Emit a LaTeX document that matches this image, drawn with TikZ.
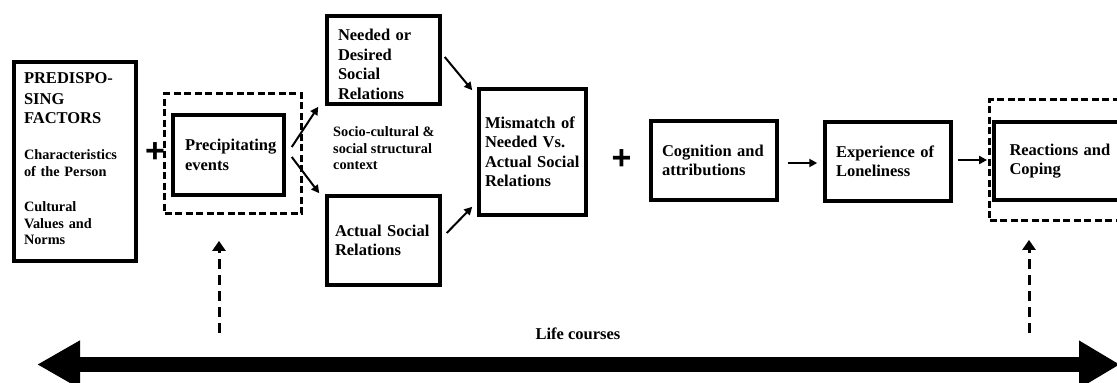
\documentclass[tikz,border=0pt]{standalone}
\usepackage{fontspec}
\setmainfont{Liberation Serif}
\newfontfamily\plusfont{Liberation Sans}
\usetikzlibrary{arrows.meta,calc}
\hyphenpenalty=10000
\newcommand\bigtxt{\fontsize{16.5}{19.5}\selectfont}
\newcommand\smalltxt{\fontsize{14.3}{16.5}\selectfont}

\begin{document}
\begin{tikzpicture}[x=1pt,y=-1pt,
  box/.style={draw, line width=3.5pt, inner sep=0pt, align=left, font=\bigtxt\bfseries},
  frame/.style={draw, line width=2.8pt, dash pattern=on 7pt off 3.5pt, inner sep=0pt},
  link/.style={line width=2pt, -{Triangle[length=8pt,width=8pt]}},
  cue/.style={line width=3pt, dash pattern=on 10pt off 6pt, -{Triangle[length=10pt,width=13pt]}},
  plus/.style={font=\plusfont\bfseries\fontsize{34}{34}\selectfont, inner sep=0pt},
]
\useasboundingbox (0,0) rectangle (1117,383);
\clip (0,0) rectangle (1117,383);

% boxes
\node[box, font=\smalltxt\bfseries, minimum width=122, minimum height=199, text width=102pt] (pre) at (75,161.5)
  {{\bigtxt PREDISPO-\\[2pt]SING\\[2pt]FACTORS}\\[20pt]Characteristics\\of the Person\\[19pt]Cultural\\Values and\\Norms\rule[-6pt]{0pt}{0pt}};
\node[box, minimum width=111, minimum height=80, text width=87pt] (prec) at (228.5,155) {Precipitating\\events};
\node[frame, minimum width=137, minimum height=120] (precframe) at (233,153.5) {};
\node[box, minimum width=113, minimum height=88, text width=91pt] (need) at (383.5,60)
  {\rule{0pt}{20pt}Needed or\\Desired\\Social\\Relations};
\node[box, minimum width=113, minimum height=89, text width=97pt] (act) at (383.5,240.5) {Actual Social\\Relations};
\node[box, minimum width=107, minimum height=126, text width=95pt] (mis) at (532.5,152) {Mismatch of\\Needed Vs.\\Actual Social\\Relations};
\node[box, minimum width=126, minimum height=79, text width=104pt] (cog) at (714,160.5) {Cognition and\\attributions};
\node[box, minimum width=126, minimum height=79, text width=104pt] (exp) at (888,161.5) {Experience of\\Loneliness};
\node[box, minimum width=137, minimum height=78, text width=106pt] (rea) at (1062.5,161) {Reactions and\\Coping};
\node[frame, minimum width=141, minimum height=121] (reaframe) at (1060,160) {};

\node[font=\smalltxt\bfseries, align=left, inner sep=0pt, anchor=west] (ctx) at (333,148.5)
  {Socio-cultural \&\\social structural\\context};

\node[plus] (plusA) at (155,152.5) {+};
\node[plus] (plusB) at (621.5,160) {+};

% connectors
\draw[link] ($(prec.east)+(6,-8)$) -- ($(need.south west)+(-7,1)$);
\draw[link] ($(prec.east)+(6,2)$) -- ($(act.north west)+(-6,-1)$);
\draw[link] ($(need.east)+(3,-3)$) -- ($(mis.north west)+(-5,3)$);
\draw[link] ($(act.east)+(5,-7.5)$) -- ($(mis.south west)+(-5,-10)$);
\draw[link, shorten >=6pt] ($(cog.east)+(9,2.5)$) coordinate (c1) -- (c1 -| exp.west);
\draw[link, shorten >=1pt] ($(exp.east)+(5,-1.5)$) coordinate (c2) -- (c2 -| reaframe.west);

% life-course influences
\coordinate (lc1) at (219,333);
\coordinate (lc2) at (1029,333);
\draw[cue] (lc1) -- ($(lc1 |- precframe.south)+(0,26)$);
\draw[cue] (lc2) -- ($(lc2 |- reaframe.south)+(0,18)$);

\node[font=\bigtxt\bfseries, inner sep=0pt] (life) at (578,334) {Life courses};
\coordinate (lifeL) at (37,364.5);
\coordinate (lifeR) at (1120,364.5);
\draw[line width=15pt, {Triangle[length=43pt,width=45pt]}-{Triangle[length=41pt,width=45pt]}] (lifeL) -- (lifeR);
\end{tikzpicture}
\end{document}
